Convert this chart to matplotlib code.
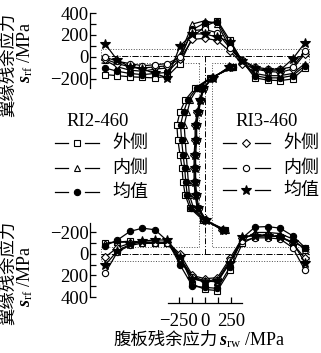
import matplotlib
matplotlib.use('Agg')
import matplotlib.pyplot as plt
from matplotlib.lines import Line2D
from matplotlib.patches import Polygon

plt.rcParams['font.family'] = ['Liberation Serif', 'Noto Sans CJK SC']
plt.rcParams['mathtext.fontset'] = 'custom'
plt.rcParams['mathtext.rm'] = 'Liberation Serif'
plt.rcParams['mathtext.it'] = 'Liberation Serif:italic'
plt.rcParams['mathtext.bf'] = 'Liberation Serif:bold'
try:
    plt.rcParams['mathtext.bfit'] = 'Liberation Serif:italic:bold'
    S_SYM = r'\mathbfit{s}'
except KeyError:
    S_SYM = r'\mathbf{s}'

CJK = ['Noto Sans CJK SC', 'DejaVu Sans']

# flange measuring points (mm from web centre)
flange_pos = [-100, -87.5, -75, -62.5, -50, -37.5, -25, -12.5, 0,
              12.5, 25, 37.5, 50, 62.5, 75, 87.5, 100]

# top flange residual stress (MPa)
top_ri2_out = [-160, -170, -180, -185, -190, -175, -60, 180, 280, 330, 150, -40, -190, -210, -215, -200, -100]
top_ri2_in = [-30, -90, -120, -130, -110, -100, 20, 300, 330, 300, 80, -50, -150, -170, -170, -150, -60]
top_ri2_avg = [-100, -130, -150, -160, -150, -140, -20, 250, 310, 320, 120, -50, -170, -190, -190, -170, -80]
top_ri3_out = [-20, -60, -90, -100, -90, -80, -20, 160, 170, 150, 50, -60, -110, -130, -140, -110, 30]
top_ri3_in = [0, -40, -60, -80, -70, -60, 0, 240, 250, 220, 80, -30, -90, -110, -110, -90, 50]
top_ri3_avg = [120, -30, -90, -110, -150, -190, 100, 210, 210, 180, 140, -40, -100, -120, -120, -20, 130]

# bottom flange residual stress (MPa)
bot_ri2_out = [-105, -110, -120, -110, -105, -100, 20, 280, 330, 340, 150, -100, -160, -170, -160, -110, -60]
bot_ri2_in = [-100, -110, -110, -100, -100, -100, 60, 230, 250, 260, 80, -130, -200, -200, -190, -140, -40]
bot_ri2_avg = [-76, -130, -210, -240, -225, -120, 100, 300, 310, 320, 120, -150, -250, -255, -240, -170, -60]
bot_ri3_out = [30, -60, -100, -110, -110, -110, 0, 200, 230, 220, 40, -150, -180, -175, -160, -100, 40]
bot_ri3_in = [180, -20, -80, -100, -100, -100, 40, 210, 250, 240, 60, -120, -150, -150, -140, -60, 150]
bot_ri3_avg = [105, -30, -90, -120, -130, -130, 30, 230, 260, 250, 80, -160, -170, -170, -160, -110, 80]

# web measuring points (mm below top flange)
web_pos = [4, 15, 25, 37, 49, 62, 77, 92, 105, 119, 132, 145, 157, 167]

# web residual stress (MPa)
web_ri2_out = [270, 50, -95, -190, -240, -270, -260, -240, -220, -210, -190, -145, -20, 190]
web_ri2_in = [270, 60, -70, -140, -170, -200, -190, -180, -170, -160, -150, -110, 0, 200]
web_ri2_avg = [270, 55, -80, -165, -205, -235, -225, -210, -195, -185, -170, -130, -10, 195]
web_ri3_out = [240, 70, -20, -50, -75, -95, -95, -105, -105, -105, -95, -75, 0, 165]
web_ri3_in = [230, 75, -10, -40, -60, -80, -80, -90, -90, -90, -80, -60, 10, 170]
web_ri3_avg = [235, 72, -15, -45, -68, -88, -88, -98, -98, -98, -88, -68, 5, 168]

legend_labels = ['外侧', '内侧', '均值']

W, H = 321, 353
fig = plt.figure(figsize=(W / 100, H / 100), dpi=100)


def box(x0, y0, x1, y1):
    return [x0 / W, 1 - y1 / H, (x1 - x0) / W, (y1 - y0) / H]


def fpt(x, y):
    return x / W, 1 - y / H


styles = {
    'ri2_out': dict(marker='s', mfc='white', ms=4.5),
    'ri2_in': dict(marker='^', mfc='white', ms=5),
    'ri2_avg': dict(marker='o', mfc='black', ms=4.5),
    'ri3_out': dict(marker='D', mfc='white', ms=3.8),
    'ri3_in': dict(marker='o', mfc='white', ms=4.5),
    'ri3_avg': dict(marker='*', mfc='black', ms=7),
}
common = dict(color='black', lw=0.9, mec='black', mew=0.8, clip_on=False)

# I-section outline and centre lines (mm, web centre / top of web = 0)
ax_sec = fig.add_axes([0, 0, 1, 1], zorder=0)
ax_sec.set_xlim(-205, W - 205)
ax_sec.set_ylim(H - 63, -63)
ax_sec.axis('off')
fw, tf, tw, hw = 104, 14, 6.5, 184
outline = [(-tw, 0), (-fw, 0), (-fw, -tf), (fw, -tf), (fw, 0), (tw, 0),
           (tw, hw), (fw, hw), (fw, hw + tf), (-fw, hw + tf), (-fw, hw), (-tw, hw)]
ax_sec.add_patch(Polygon(outline, closed=True, fill=False, ls=':', lw=0.7, ec='0.3'))
ax_sec.plot([-fw, fw], [-tf / 2, -tf / 2], color='black', lw=0.7, ls='-.')
ax_sec.plot([-fw, fw], [hw + tf / 2, hw + tf / 2], color='black', lw=0.7, ls='-.')
ax_sec.plot([0, 0], [-tf / 2, hw + tf / 2], color='black', lw=0.7, ls=(0, (6, 2, 1, 2)))


def flange_axes(rect, ylim):
    ax = fig.add_axes(rect, zorder=2)
    ax.patch.set_visible(False)
    ax.set_xlim(-115, 110)
    ax.set_ylim(*ylim)
    for s in ('top', 'right', 'bottom'):
        ax.spines[s].set_visible(False)
    ax.spines['left'].set_linewidth(0.9)
    ax.set_xticks([])
    ax.set_yticks([-200, 0, 200, 400])
    ax.set_yticks([-100, 100, 300], minor=True)
    ax.tick_params(axis='y', which='both', direction='in', length=4, width=0.9,
                   pad=1, labelsize=13.5)
    return ax


ax_top = flange_axes(box(90, 13, 315, 88), (-282, 400))
ax_bot = flange_axes(box(90, 223, 315, 297), (400, -288))

for ax, data in ((ax_top, (top_ri2_out, top_ri2_in, top_ri2_avg, top_ri3_out, top_ri3_in, top_ri3_avg)),
                 (ax_bot, (bot_ri2_out, bot_ri2_in, bot_ri2_avg, bot_ri3_out, bot_ri3_in, bot_ri3_avg))):
    for key, vals in zip(styles, data):
        ax.plot(flange_pos, vals, **styles[key], **common)

ax_web = fig.add_axes(box(168, 63, 242, 303), zorder=3)
ax_web.patch.set_visible(False)
ax_web.set_xlim(-355, 355)
ax_web.set_ylim(240, 0)
for s in ('top', 'right', 'left'):
    ax_web.spines[s].set_visible(False)
ax_web.spines['bottom'].set_linewidth(0.9)
ax_web.set_yticks([])
ax_web.set_xticks([-250, 0, 250])
ax_web.set_xticks([-125, 125], minor=True)
ax_web.tick_params(axis='x', which='both', direction='in', length=4.5, width=0.9,
                   pad=7, labelsize=13.5)
for key, vals in zip(styles, (web_ri2_out, web_ri2_in, web_ri2_avg,
                              web_ri3_out, web_ri3_in, web_ri3_avg)):
    ax_web.plot(vals, web_pos, **styles[key], **common)


# legends
def legend_block(title, title_x, x_seg1, x_mark, x_seg2, x_text, rows, keys):
    fig.text(*fpt(title_x, 122), title, fontsize=13.5, ha='center', va='center')
    for y, key, lab in zip(rows, keys, legend_labels):
        for xa, xb in (x_seg1, x_seg2):
            fig.add_artist(Line2D([xa / W, xb / W], [1 - y / H] * 2, color='black', lw=0.9,
                                  transform=fig.transFigure))
        st = styles[key]
        fig.add_artist(Line2D([x_mark / W], [1 - y / H], ls='none', marker=st['marker'],
                              mfc=st['mfc'], ms=st['ms'], mec='black', mew=0.8,
                              transform=fig.transFigure))
        fig.text(*fpt(x_text, y), lab, fontsize=13, ha='left', va='center',
                 family=CJK, weight='light')


legend_block('RI2-460', 98, (55, 68), 77, (85, 99), 112, (143, 168, 192),
             ('ri2_out', 'ri2_in', 'ri2_avg'))
legend_block('RI3-460', 267, (223, 236), 246, (255, 270), 283, (143, 168, 190),
             ('ri3_out', 'ri3_in', 'ri3_avg'))

# axis titles
unit_f = '$%s_{\\mathrm{rf}}$ /MPa' % S_SYM
for yc1, yc2 in ((65, 52), (273, 276)):
    fig.text(*fpt(8, yc1), '翼缘残余应力', rotation=90, fontsize=12.5, ha='center',
             va='center', family=CJK, weight='light')
    fig.text(*fpt(25, yc2), unit_f, rotation=90, fontsize=13, ha='center', va='center')
fig.text(*fpt(218, 340), '腹板残余应力', fontsize=12.5, ha='right', va='center',
         family=CJK, weight='light')
fig.text(*fpt(219, 340), '$%s_{\\mathrm{rw}}$ /MPa' % S_SYM, fontsize=13,
         ha='left', va='center')

fig.savefig('out.png', dpi=100)
